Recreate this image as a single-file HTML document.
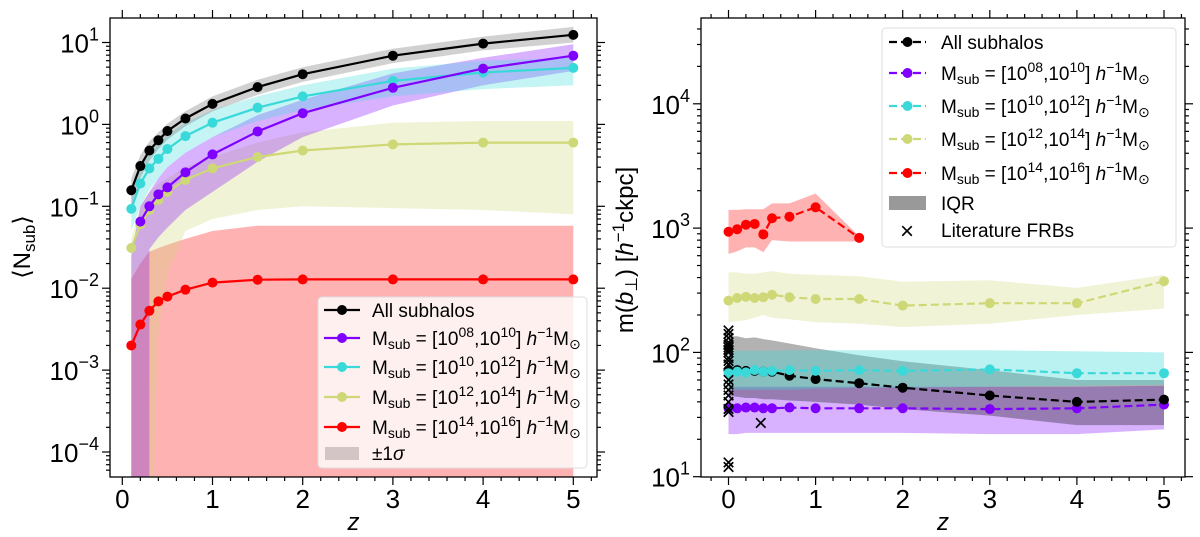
<!DOCTYPE html>
<html><head><meta charset="utf-8"><style>
html,body{margin:0;padding:0;background:#fff;overflow:hidden;}
svg{display:block;font-family:"Liberation Sans","DejaVu Sans",sans-serif;}
</style></head><body>
<svg id="chart" width="1200" height="537" viewBox="0 0 1200 537" xmlns="http://www.w3.org/2000/svg"></svg>
<script>
// ---------- Left panel data ----------
const zL = [0.1,0.2,0.3,0.4,0.5,0.7,1,1.5,2,3,4,5];
const allN = [0.157,0.31,0.48,0.64,0.83,1.18,1.78,2.85,4.1,6.9,9.7,12.4];
const allLo = [0.1,0.22,0.36,0.5,0.65,0.95,1.45,2.3,3.3,5.6,8.0,10.0];
const allHi = [0.22,0.42,0.62,0.8,1.02,1.45,2.2,3.5,5.0,8.4,11.8,15.5];
const zP = [0.2,0.3,0.4,0.5,0.7,1,1.5,2,3,4,5];
const purN = [0.065,0.1,0.14,0.17,0.26,0.43,0.82,1.37,2.8,4.8,6.9];
const zPB = [0.1,0.2,0.3,0.3,0.4,0.5,0.7,1,1.5,2,3,4,5];
const purLo = [1e-8,1e-8,1e-8,0.03,0.042,0.055,0.09,0.15,0.35,0.7,1.7,3.0,4.5];
const purHi = [0.025,0.1,0.15,0.15,0.22,0.3,0.45,0.7,1.3,2.0,4.2,6.5,9.5];
const cyaN = [0.093,0.19,0.29,0.38,0.5,0.72,1.05,1.6,2.2,3.4,4.3,4.9];
const cyaLo = [0.05,0.1,0.16,0.22,0.3,0.45,0.7,1.1,1.5,2.2,2.7,3.0];
const cyaHi = [0.15,0.3,0.45,0.6,0.75,1.05,1.5,2.2,3.0,4.8,6.0,6.5];
const yelN = [0.031,0.06,0.09,0.12,0.15,0.21,0.29,0.4,0.48,0.57,0.6,0.6];
const yelLo = [1e-6,1e-6,1e-6,0.003,0.015,0.05,0.07,0.09,0.1,0.095,0.09,0.08];
const yelHi = [0.04,0.1,0.15,0.19,0.22,0.3,0.4,0.6,0.8,1.05,1.1,1.1];
const redN = [0.002,0.0036,0.0053,0.0069,0.0079,0.0096,0.0117,0.0127,0.0128,0.0128,0.0128,0.0128];
const redLo = [1e-6,1e-6,1e-6,1e-6,1e-6,1e-6,1e-6,1e-6,1e-6,1e-6,1e-6,1e-6];
const redHi = [0.013,0.02,0.028,0.031,0.034,0.04,0.05,0.058,0.058,0.058,0.058,0.058];
const xTicksL = [0,1,2,3,4,5];
const yTicksL = [-4,-3,-2,-1,0,1];

// ---------- Right panel data ----------
const zR = [0,0.1,0.2,0.3,0.4,0.5,0.7,1,1.5,2,3,4,5];
const zRed = [0,0.1,0.2,0.3,0.4,0.5,0.7,1,1.5];
const redM = [935,980,1065,1080,890,1200,1235,1470,835];
const redQ1 = [620,650,700,700,640,800,780,780,780];
const redQ3 = [1400,1400,1420,1420,1420,1580,1580,1900,860];
const yelM = [261,274,280,274,278,291,278,269,269,238,249,249,374];
const yelQ1 = [175,178,182,190,200,190,185,175,170,160,170,200,225];
const yelQ3 = [440,440,430,430,440,450,430,420,410,370,380,330,420];
const cyaM = [68,70,69,72,70,71,72,71,72,71,73,68,68];
const cyaQ1 = [50,50,50,50,50,50,50,51,52,52,53,54,55];
const cyaQ3 = [103,103,103,103,103,103,104,104,104,104,104,102,100];
const allM = [72,72,71,71,70,70,65,61,56.5,52,45,40,41.7];
const allQ1 = [45,44,43,43,42,42,41,40,38,35,31,26,26];
const allQ3 = [135,135,130,132,128,125,118,108,95,85,72,60,60];
const purM = [35.5,35.5,36,36,35.5,35.5,36,35.5,35.5,35.5,35,35.5,38];
const purQ1 = [22,22,22.5,22.5,22.5,22.5,22.5,22.5,22.5,22.5,22,22,24];
const purQ3 = [53,53,53,53,53,53,53,53,53,53,53,53,54];
const frbZ = [0,0,0,0,0,0,0,0,0,0,0,0,0,0,0,0,0,0,0,0,0.37];
const frbV = [150,140,130,120,115,110,105,100,90,85,80,60,55,50,45,40,35,33,13,12,27];
const xTicksR = [0,1,2,3,4,5];
const yTicksR = [1,2,3,4];

const NS = "http://www.w3.org/2000/svg";
const svg = document.getElementById('chart');
function mk(tag, attrs, parent){const e=document.createElementNS(NS,tag);for(const k in attrs)e.setAttribute(k,attrs[k]);(parent||svg).appendChild(e);return e;}

function panel(o){
  const g = mk('g',{});
  
  
  const X = z => o.x0 + o.xs*z;
  const Y = v => o.y0 - o.ys*(Math.log10(v) - o.ytop);
  const clipId = o.name+'-clip';
  const cp = mk('clipPath',{id:clipId},g);
  mk('rect',{x:o.L,y:o.T,width:o.R-o.L,height:o.B-o.T},cp);
  const plot = mk('g',{'clip-path':'url(#'+clipId+')'},g);
  
  
  o.X=X;o.Y=Y;o.plot=plot;o.g=g;
  return o;
}
function band(o, zs, lo, hi, color, op, name){
  let d='';
  zs.forEach((z,i)=>{d+=(i?'L':'M')+o.X(z).toFixed(1)+','+o.Y(Math.max(hi[i],1e-8)).toFixed(1);});
  for(let i=zs.length-1;i>=0;i--) d+='L'+o.X(zs[i]).toFixed(1)+','+o.Y(Math.max(lo[i],1e-8)).toFixed(1);
  const p = mk('path',{d:d+'Z',fill:color,'fill-opacity':op,stroke:'none'},o.plot);
  
  
}
function line(o, zs, vs, color, dashed, name){
  const pts = zs.map((z,i)=>o.X(z).toFixed(1)+','+o.Y(vs[i]).toFixed(1)).join(' ');
  const pl = mk('polyline',{points:pts,fill:'none',stroke:color,'stroke-width':2.2,'stroke-dasharray':dashed?'8,4':'none'},o.plot);
  
  
  zs.forEach((z,i)=>{
    const c = mk('circle',{cx:o.X(z),cy:o.Y(vs[i]),r:5,fill:color},o.plot);
    
    
  });
}
function axes(o, xticks, yticks, xminor){
  const g=o.g;
  mk('rect',{x:o.L,y:o.T,width:o.R-o.L,height:o.B-o.T,fill:'none',stroke:'#000','stroke-width':1.3},g);
  for(let z=Math.ceil(o.zmin/xminor)*xminor; z<=o.zmax+1e-9; z+=xminor){
    const major = Math.abs(z-Math.round(z))<1e-6;
    const x=o.X(z), len= major?8:4;
    mk('line',{x1:x,x2:x,y1:o.B,y2:o.B+len,stroke:'#000','stroke-width':1.2},g);
    mk('line',{x1:x,x2:x,y1:o.T,y2:o.T-len,stroke:'#000','stroke-width':1.2},g);
  }
  xticks.forEach(z=>{
    const t=mk('text',{x:o.X(z),y:o.B+31,'font-size':26,'text-anchor':'middle'},g);
    t.textContent=z;
    
    
  });
  for(let d=o.ymin; d<=o.ymax; d++){
    for(let m=1;m<10;m++){
      const v=Math.log10(m)+d;
      if(v<o.ylo-1e-6||v>o.yhi+1e-6) continue;
      const y=o.Y(Math.pow(10,v)), len= m===1?8:4;
      mk('line',{x1:o.L-len,x2:o.L,y1:y,y2:y,stroke:'#000','stroke-width':1.2},g);
      mk('line',{x1:o.R,x2:o.R+len,y1:y,y2:y,stroke:'#000','stroke-width':1.2},g);
    }
  }
  yticks.forEach(e=>{
    const y=o.Y(Math.pow(10,e));
    const t=mk('text',{x:o.L-11,y:y+10,'font-size':26,'text-anchor':'end'},g);
    
    
    t.appendChild(document.createTextNode('10'));
    const s=mk('tspan',{dy:-12,'font-size':18},t); s.textContent=(e<0?'\u2212'+(-e):e);
  });
  const xl=mk('text',{x:(o.L+o.R)/2,y:530,'font-size':24,'font-style':'italic','text-anchor':'middle'},g);
  xl.textContent='z';
  
  
}
function legendBox(o,x,y,w,h){
  const r=mk('rect',{x:x,y:y,width:w,height:h,rx:4,fill:'#fff','fill-opacity':0.8,stroke:'#ddd','stroke-width':1},o.g);
  
  
}
function legLine(o,x1,x2,y,color,dashed){
  const l=mk('line',{x1:x1,x2:x2,y1:y,y2:y,stroke:color,'stroke-width':2.2,'stroke-dasharray':dashed?'8,4':'none'},o.g);
  
  
  const c=mk('circle',{cx:(x1+x2)/2,cy:y,r:5,fill:color},o.g);
  
  
}
function legText(o,x,y,html){
  const t=mk('text',{x:x,y:y+7,'font-size':19},o.g);
  
  
  t.innerHTML=html;
}
function massLabel(a,b){
  return 'M<tspan dy="4" font-size="14">sub</tspan><tspan dy="-4"> = [10</tspan><tspan dy="-8" font-size="14">'+a+'</tspan><tspan dy="8">,10</tspan><tspan dy="-8" font-size="14">'+b+'</tspan><tspan dy="8">] </tspan><tspan font-style="italic">h</tspan><tspan dy="-8" font-size="14">\u22121</tspan><tspan dy="8">M</tspan><tspan dy="4" font-size="14">\u2299</tspan>';
}

const C = {blk:'#000000',pur:'#7f00ff',cya:'#3ad9d9',yel:'#cfd877',red:'#ff0000'};

// ---------- Left ----------
const A = panel({name:'left-panel',L:110,R:597,T:18,B:477,x0:122.3,xs:90.2,y0:42.5,ys:81.9,ytop:1,zmin:-0.13,zmax:5.24,ymin:-5,ymax:1,ylo:-4.3,yhi:1.3});
band(A,zL,redLo,redHi,C.red,0.3,'red-band');
band(A,zL,yelLo,yelHi,C.yel,0.3,'yellow-band');
band(A,zPB,purLo,purHi,C.pur,0.3,'purple-band');
band(A,zL,cyaLo,cyaHi,C.cya,0.3,'cyan-band');
band(A,zL,allLo,allHi,'#666',0.3,'all-band');
line(A,zL,redN,C.red,false,'red');
line(A,zL,yelN,C.yel,false,'yellow');
line(A,zL,cyaN,C.cya,false,'cyan');
line(A,zP,purN,C.pur,false,'purple');
line(A,zL,allN,C.blk,false,'all');
axes(A,xTicksL,yTicksL,0.2);
legendBox(A,318,297,269,171);
legLine(A,324,360,310,C.blk,false); legText(A,372,310,'All subhalos');
legLine(A,324,360,338,C.pur,false); legText(A,372,338,massLabel('08','10'));
legLine(A,324,360,367,C.cya,false); legText(A,372,367,massLabel('10','12'));
legLine(A,324,360,397,C.yel,false); legText(A,372,397,massLabel('12','14'));
legLine(A,324,360,427,C.red,false); legText(A,372,427,massLabel('14','16'));
(function(){const r=mk('rect',{x:325,y:447,width:34,height:13,fill:'#a89a9a','fill-opacity':0.5},A.g);})();
legText(A,372,453,'\u00b11<tspan font-style="italic">\u03c3</tspan>');
(function(){const t=mk('text',{transform:'translate(30,247) rotate(-90)','font-size':24,'text-anchor':'middle'},A.g);t.innerHTML='\u27e8N<tspan dy="5" font-size="17">sub</tspan><tspan dy="-5">\u27e9</tspan>';})();

// ---------- Right ----------
const B = panel({name:'right-panel',L:701,R:1185,T:18,B:477,x0:728.5,xs:87.1,y0:476.7,ys:124.3,ytop:1,zmin:-0.32,zmax:5.24,ymin:1,ymax:4,ylo:1,yhi:4.69});
band(B,zR,purQ1,purQ3,C.pur,0.3,'purple-iqr');
band(B,zR,allQ1,allQ3,'#000',0.3,'all-iqr');
band(B,zR,cyaQ1,cyaQ3,C.cya,0.35,'cyan-iqr');
band(B,zR,yelQ1,yelQ3,C.yel,0.3,'yellow-iqr');
band(B,zRed,redQ1,redQ3,C.red,0.3,'red-iqr');
line(B,zR,purM,C.pur,true,'purple');
line(B,zR,allM,C.blk,true,'all');
line(B,zR,cyaM,C.cya,true,'cyan');
line(B,zR,yelM,C.yel,true,'yellow');
line(B,zRed,redM,C.red,true,'red');
frbZ.forEach((z,i)=>{
  const t=mk('text',{x:B.X(z),y:B.Y(frbV[i])+8,'font-size':24,'text-anchor':'middle'},B.plot);
  t.textContent='\u00d7';
  
  
});
axes(B,xTicksR,yTicksR,0.2);
legendBox(B,882,28,294,219);
legLine(B,889,926,42,C.blk,true); legText(B,941,42,'All subhalos');
legLine(B,889,926,73,C.pur,true); legText(B,941,73,massLabel('08','10'));
legLine(B,889,926,106,C.cya,true); legText(B,941,106,massLabel('10','12'));
legLine(B,889,926,139,C.yel,true); legText(B,941,139,massLabel('12','14'));
legLine(B,889,926,173,C.red,true); legText(B,941,173,massLabel('14','16'));
(function(){const r=mk('rect',{x:889,y:196,width:37,height:14,fill:'#999'},B.g);})();
legText(B,941,203,'IQR');
(function(){const t=mk('text',{x:907,y:239,'font-size':24,'text-anchor':'middle'},B.g);t.textContent='\u00d7';})();
legText(B,941,230,'Literature FRBs');
(function(){const t=mk('text',{transform:'translate(633,250) rotate(-90)','font-size':24,'text-anchor':'middle'},B.g);t.innerHTML='m(<tspan font-style="italic">b</tspan><tspan dy="4" font-size="17">\u22a5</tspan><tspan dy="-4">) [</tspan><tspan font-style="italic">h</tspan><tspan dy="-9" font-size="17">\u22121</tspan><tspan dy="9">ckpc]</tspan>';})();
</script>
</body></html>
